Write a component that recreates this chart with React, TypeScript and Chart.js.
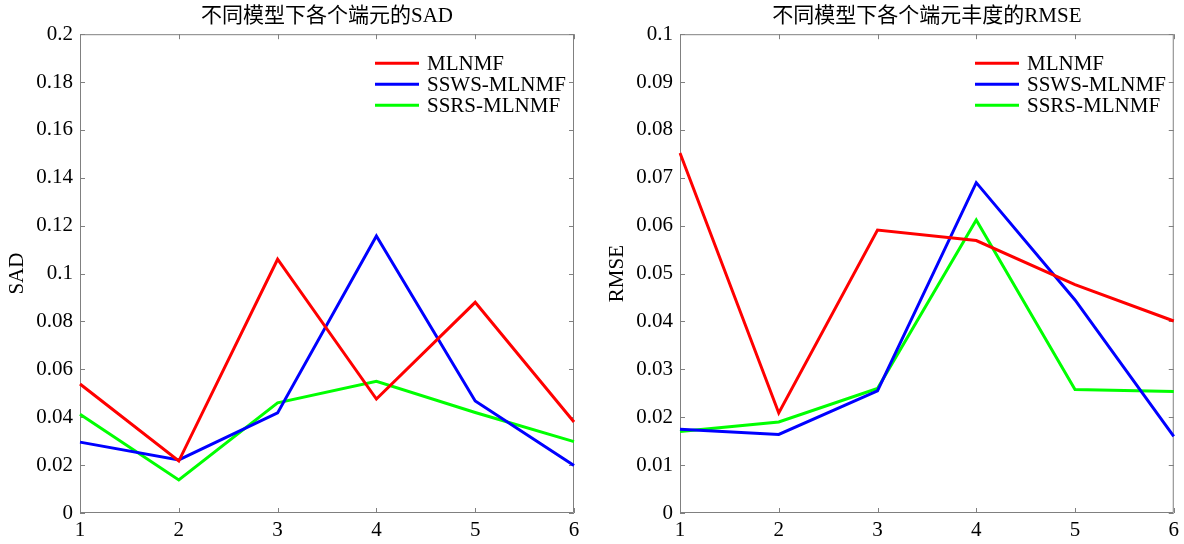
import React, { useEffect, useRef } from "react";
import { Chart, registerables } from "chart.js";

Chart.register(...registerables);

const categories = ["1", "2", "3", "4", "5", "6"];
const seriesNames = ["MLNMF", "SSWS-MLNMF", "SSRS-MLNMF"];
const seriesColors = ["#ff0000", "#0000ff", "#00ff00"];

const sadMLNMF = [0.0539, 0.0217, 0.106, 0.0476, 0.088, 0.038];
const sadSSWS = [0.0296, 0.0222, 0.0418, 0.1157, 0.0468, 0.0198];
const sadSSRS = [0.0413, 0.0138, 0.046, 0.055, 0.042, 0.0298];
const sadTicks = [0, 0.02, 0.04, 0.06, 0.08, 0.1, 0.12, 0.14, 0.16, 0.18, 0.2];

const rmseMLNMF = [0.0752, 0.0209, 0.0591, 0.0569, 0.0477, 0.0401];
const rmseSSWS = [0.0175, 0.0164, 0.0255, 0.069, 0.0445, 0.016];
const rmseSSRS = [0.017, 0.019, 0.026, 0.0612, 0.0258, 0.0254];
const rmseTicks = [0, 0.01, 0.02, 0.03, 0.04, 0.05, 0.06, 0.07, 0.08, 0.09, 0.1];

const FONT = "'Liberation Serif', 'Times New Roman', 'Noto Sans CJK SC', serif";
const FS = 21;

const boxPlugin = {
  id: "matlabBox",
  beforeDatasetsDraw(chart: any) {
    const { ctx, chartArea } = chart;
    const { left, right, top, bottom } = chartArea;
    ctx.save();
    ctx.strokeStyle = "#808080";
    ctx.lineWidth = 1;
    ctx.beginPath();
    ctx.rect(left + 0.5, top + 0.5, right - left - 1, bottom - top - 1);
    const tl = 5;
    const ys = chart.scales.y;
    ys.ticks.forEach((t: any) => {
      const p = Math.round(ys.getPixelForValue(t.value)) + 0.5;
      ctx.moveTo(left, p);
      ctx.lineTo(left + tl, p);
      ctx.moveTo(right, p);
      ctx.lineTo(right - tl, p);
    });
    const xs = chart.scales.x;
    xs.ticks.forEach((_t: any, i: number) => {
      const p = Math.round(xs.getPixelForTick(i)) + 0.5;
      ctx.moveTo(p, bottom);
      ctx.lineTo(p, bottom - tl);
      ctx.moveTo(p, top);
      ctx.lineTo(p, top + tl);
    });
    ctx.stroke();
    ctx.restore();
  },
};

const legendPlugin = {
  id: "innerLegend",
  afterDatasetsDraw(chart: any) {
    const { ctx, chartArea } = chart;
    ctx.save();
    ctx.font = `${FS}px ${FONT}`;
    ctx.textBaseline = "middle";
    ctx.textAlign = "left";
    chart.data.datasets.forEach((ds: any, i: number) => {
      const y = chartArea.top + 29 + 21 * i;
      ctx.strokeStyle = ds.borderColor;
      ctx.lineWidth = 3;
      ctx.beginPath();
      ctx.moveTo(chartArea.left + 295, y);
      ctx.lineTo(chartArea.left + 339, y);
      ctx.stroke();
      ctx.fillStyle = "#000";
      ctx.fillText(ds.label, chartArea.left + 347, y + 1);
    });
    ctx.restore();
  },
};

function fmt(v: number) {
  return String(Number(v.toFixed(4)));
}

function makeConfig(
  title: string,
  yTitle: string,
  values: number[][],
  ticks: number[],
  padLeft: number,
  padRight: number,
  yWidth: number
): any {
  return {
    type: "line",
    data: {
      labels: categories,
      datasets: values.map((v, i) => ({
        label: seriesNames[i],
        data: v,
        borderColor: seriesColors[i],
        backgroundColor: seriesColors[i],
        borderWidth: 3,
        pointRadius: 0,
        tension: 0,
        fill: false,
      })),
    },
    options: {
      responsive: false,
      animation: false,
      devicePixelRatio: 1,
      layout: { padding: { left: padLeft, right: padRight, top: 0, bottom: 0 } },
      plugins: {
        legend: { display: false },
        tooltip: { enabled: false },
        title: {
          display: true,
          text: title,
          fullSize: false,
          color: "#000",
          font: { family: FONT, size: FS, weight: "normal" },
          padding: { top: 4, bottom: 5 },
        },
      },
      scales: {
        x: {
          type: "category",
          offset: false,
          grid: { display: false, drawTicks: false },
          border: { display: false },
          ticks: {
            color: "#000",
            font: { family: FONT, size: FS },
            padding: 5,
            maxRotation: 0,
          },
          afterFit(scale: any) {
            scale.height = 31;
          },
        },
        y: {
          type: "linear",
          min: ticks[0],
          max: ticks[ticks.length - 1],
          grid: { display: false, drawTicks: false },
          border: { display: false },
          title: {
            display: true,
            text: yTitle,
            color: "#000",
            font: { family: FONT, size: FS },
            padding: { top: 0, bottom: 0 },
          },
          ticks: {
            color: "#000",
            font: { family: FONT, size: FS },
            padding: 7,
            callback: (v: any) => fmt(Number(v)),
          },
          afterBuildTicks(scale: any) {
            scale.ticks = ticks.map((t) => ({ value: t }));
          },
          afterFit(scale: any) {
            scale.width = yWidth;
          },
        },
      },
    },
    plugins: [boxPlugin, legendPlugin],
  };
}

export default function App() {
  const leftRef = useRef<HTMLCanvasElement>(null);
  const rightRef = useRef<HTMLCanvasElement>(null);

  useEffect(() => {
    const c1 = new Chart(
      leftRef.current!,
      makeConfig("不同模型下各个端元的SAD", "SAD", [sadMLNMF, sadSSWS, sadSSRS], sadTicks, 5, 18, 75)
    );
    const c2 = new Chart(
      rightRef.current!,
      makeConfig(
        "不同模型下各个端元丰度的RMSE",
        "RMSE",
        [rmseMLNMF, rmseSSWS, rmseSSRS],
        rmseTicks,
        13,
        6,
        75
      )
    );
    return () => {
      c1.destroy();
      c2.destroy();
    };
  }, []);

  return (
    <div style={{ position: "absolute", left: 0, top: 0, width: 1184, height: 544, background: "#fff" }}>
      <canvas ref={leftRef} width={592} height={544} style={{ position: "absolute", left: 0, top: 0, width: 592, height: 544 }} />
      <canvas ref={rightRef} width={592} height={544} style={{ position: "absolute", left: 592, top: 0, width: 592, height: 544 }} />
    </div>
  );
}
